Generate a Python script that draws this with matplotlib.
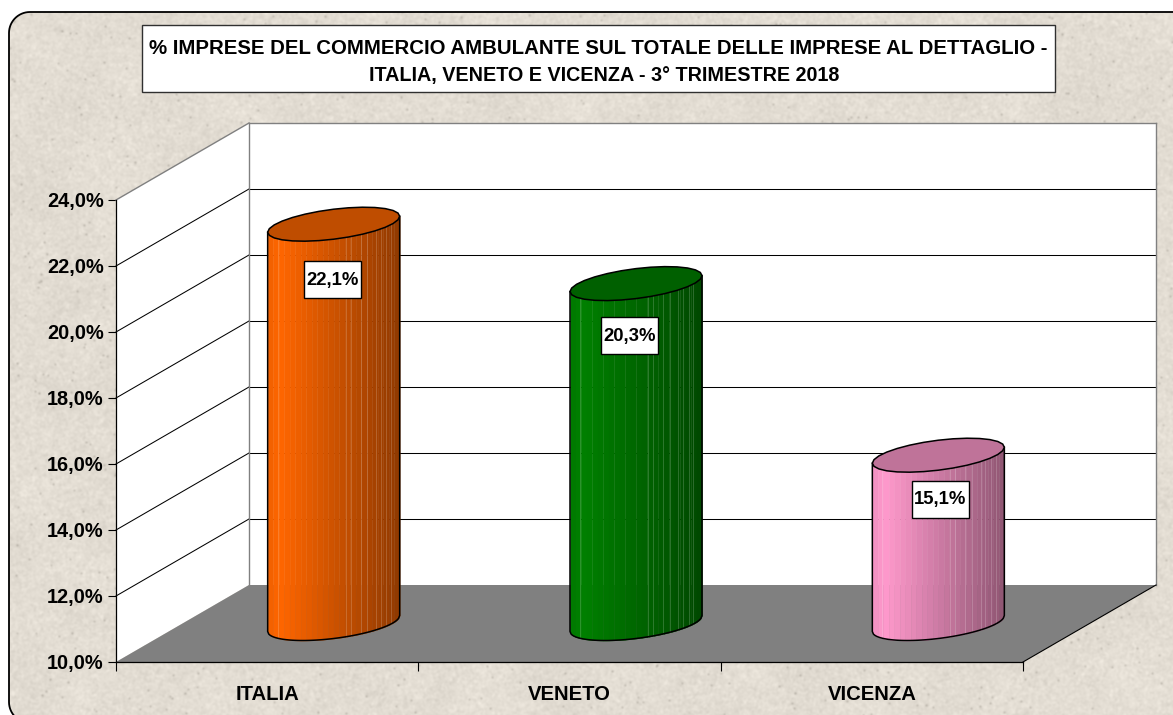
import numpy as np
import matplotlib
matplotlib.use('Agg')
import matplotlib.pyplot as plt
from matplotlib.patches import Polygon, Rectangle
from matplotlib.colors import to_rgb

plt.rcParams['font.family'] = ['Liberation Sans', 'DejaVu Sans']
plt.rcParams['font.weight'] = 'bold'

categories = ['ITALIA', 'VENETO', 'VICENZA']
values = [22.1, 20.3, 15.1]
value_labels = ['22,1%', '20,3%', '15,1%']
y_ticks = [10, 12, 14, 16, 18, 20, 22, 24]
y_tick_labels = ['10,0%', '12,0%', '14,0%', '16,0%', '18,0%', '20,0%', '22,0%', '24,0%']
title_line1 = '% IMPRESE DEL COMMERCIO AMBULANTE SUL TOTALE DELLE IMPRESE AL DETTAGLIO -'
title_line2 = 'ITALIA, VENETO E VICENZA - 3° TRIMESTRE 2018'
bar_colors = ['#FF6600', '#008000', '#FF99CC']

W, H = 1173, 715
fig = plt.figure(figsize=(W / 100, H / 100), dpi=100, facecolor='white')

# background: stone texture inside a rounded frame, axes in pixels
bg = fig.add_axes([0, 0, 1, 1])
bg.axis('off')


def blur(a, s):
    fy = np.fft.fftfreq(a.shape[0])[:, None]
    fx = np.fft.rfftfreq(a.shape[1])[None, :]
    return np.fft.irfft2(np.fft.rfft2(a) * np.exp(-2 * (np.pi * s) ** 2 * (fx ** 2 + fy ** 2)), s=a.shape)


rng = np.random.default_rng(7)
fine = blur(rng.normal(size=(H, W)), 1.1)
coarse = blur(rng.normal(size=(H, W)), 14)
specks = blur((rng.random((H, W)) > 0.9985).astype(float), 1.0)
shade = fine / fine.std() * 3.0 + coarse / coarse.std() * 1.4 - specks / specks.max() * 36
texture = np.clip(np.dstack([227 + shade, 221 + shade, 211 + shade]), 0, 255).astype(np.uint8)
im = bg.imshow(texture, extent=(0, W, H, 0), aspect='auto', zorder=1)

# frame outline, the right and bottom sides run off the picture
r = 21
a1 = np.linspace(np.pi, 1.5 * np.pi, 16)
a2 = np.linspace(0.5 * np.pi, np.pi, 16)
frame_x = np.r_[W + 30, 9 + r + r * np.cos(a2), 9 + r + r * np.cos(a1), W + 30]
frame_y = np.r_[723, 702 + r * np.sin(a2), 12 + r + r * np.sin(a1), 12]
frame = Polygon(np.c_[frame_x, frame_y], closed=True, facecolor='none', edgecolor='black',
                linewidth=1.3, zorder=2)
bg.add_patch(frame)
im.set_clip_path(frame)
bg.set_xlim(0, W)
bg.set_ylim(H, 0)

bg.add_patch(Rectangle((142, 25), 913, 67, facecolor='white', edgecolor='#303030', linewidth=1.0, zorder=3))
bg.text(598, 48, title_line1, ha='center', va='center', fontsize=14.7, color='black', zorder=4)
bg.text(604.5, 75.5, title_line2, ha='center', va='center', fontsize=14.2, color='black', zorder=4)

# front plane of the 3D box is the real axes
ax = fig.add_axes([116 / W, (H - 662) / H, 907 / W, 462 / H])
ax.set_xlim(0, 3)
ax.set_ylim(10, 24)
ax.patch.set_alpha(0)
depth_x = 3 * 133 / 907
depth_y = 14 * 77 / 462

ax.add_patch(Polygon([(0, 10), (depth_x, 10 + depth_y), (depth_x, 24 + depth_y), (0, 24)],
                     closed=True, facecolor='white', edgecolor='none', clip_on=False, zorder=1))
ax.add_patch(Polygon([(depth_x, 10 + depth_y), (3 + depth_x, 10 + depth_y),
                      (3 + depth_x, 24 + depth_y), (depth_x, 24 + depth_y)],
                     closed=True, facecolor='white', edgecolor='none', clip_on=False, zorder=1))
ax.add_patch(Polygon([(0, 10), (3, 10), (3 + depth_x, 10 + depth_y), (depth_x, 10 + depth_y)],
                     closed=True, facecolor='#808080', edgecolor='none', clip_on=False, zorder=2))

for t in y_ticks[1:-1]:
    ax.plot([0, depth_x], [t, t + depth_y], color='black', lw=0.75, clip_on=False, zorder=3)
    ax.plot([depth_x, 3 + depth_x], [t + depth_y, t + depth_y], color='black', lw=0.75,
            clip_on=False, zorder=3)
# grey outline of the walls
grey = '#808080'
ax.plot([0, depth_x], [24, 24 + depth_y], color=grey, lw=1.0, clip_on=False, zorder=3)
ax.plot([depth_x, 3 + depth_x], [24 + depth_y, 24 + depth_y], color=grey, lw=1.0, clip_on=False, zorder=3)
ax.plot([3 + depth_x, 3 + depth_x], [24 + depth_y, 10 + depth_y], color=grey, lw=1.0, clip_on=False, zorder=3)
ax.plot([depth_x, depth_x], [10 + depth_y, 24 + depth_y], color=grey, lw=1.0, clip_on=False, zorder=3)
ax.plot([3, 3 + depth_x], [10, 10 + depth_y], color='black', lw=0.8, clip_on=False, zorder=3)

# axes, ticks
for side in ['top', 'right']:
    ax.spines[side].set_visible(False)
for side in ['left', 'bottom']:
    ax.spines[side].set_linewidth(0.9)
    ax.spines[side].set_zorder(4)
ax.set_yticks(y_ticks)
ax.set_yticklabels(y_tick_labels, fontsize=14.4, fontweight='bold')
ax.tick_params(axis='y', length=6, width=0.8, pad=3)
ax.set_xticks([0.5, 1.5, 2.5])
ax.set_xticklabels(categories, fontsize=14.6, fontweight='bold')
ax.tick_params(axis='x', which='major', length=0, pad=16.5)
ax.set_xticks([0, 1, 2, 3], minor=True)
ax.tick_params(axis='x', which='minor', length=6.5, width=0.8)

# overlay in pixels for the value boxes
top = fig.add_axes([0, 0, 1, 1])
top.axis('off')
top.set_xlim(0, W)
top.set_ylim(H, 0)
top.patch.set_alpha(0)

# cylinders
half_w = 3 * 66 / 907
ell_b = 14 * 15 / 462
ell_s = 14 * 8 / 462
label_dx = [-1.5, -6, 2]
label_dy = [55.5, 52, 44]
seam_u = [-0.85, 0.18, 0.26, 0.41, 0.51, 0.64, 0.71, 0.80, 0.87]
u = np.linspace(-1, 1, 25)
uu = np.linspace(-1, 1, 121)


def brightness(p):
    return np.interp(p, [-1, -0.82, 1], [0.94, 1.0, 0.56])


def lower_edge(y0, p):
    return y0 + ell_s * p - ell_b * np.sqrt(np.clip(1 - p ** 2, 0, 1))


fig.canvas.draw()
for i, (val, col) in enumerate(zip(values, bar_colors)):
    cx = i + 0.5 + depth_x / 2
    y0 = 10 + depth_y / 2
    y1 = val + depth_y / 2
    base = np.array(to_rgb(col))
    for k in range(len(u) - 1):
        seg = np.linspace(u[k], u[k + 1], 5)
        c = base * brightness((u[k] + u[k + 1]) / 2)
        ax.fill_between(cx + half_w * seg, lower_edge(y0, seg), y1 + ell_s * seg, color=c, lw=0.3,
                        clip_on=False, zorder=5)
    # thin pale seams between facets on the shaded side
    for s in seam_u:
        ax.plot([cx + half_w * s] * 2, [lower_edge(y0, s), y1 + ell_s * s], color='white', lw=0.5,
                alpha=0.25, clip_on=False, zorder=5.5)
    ax.plot(np.r_[cx - half_w, cx + half_w * uu, cx + half_w],
            np.r_[y1 - ell_s, lower_edge(y0, uu), y1 + ell_s],
            color='black', lw=1.1, clip_on=False, zorder=6)
    tt = np.linspace(0, 2 * np.pi, 29)
    ax.add_patch(Polygon(np.c_[cx + half_w * np.cos(tt), y1 + ell_s * np.cos(tt) + ell_b * np.sin(tt)],
                         closed=True, facecolor=base * 0.75, edgecolor='black', linewidth=1.1,
                         clip_on=False, zorder=7))
    px = ax.transData.transform((cx, y1))
    lx = px[0] + label_dx[i]
    ly = H - px[1] + label_dy[i]
    top.add_patch(Rectangle((lx - 28.5, ly - 18.5), 57, 37, facecolor='white', edgecolor='black', linewidth=1.0))
    top.text(lx, ly + 0.5, value_labels[i], ha='center', va='center', fontsize=13.3,
             fontweight='bold', color='black')

fig.savefig('out.png', dpi=100)
